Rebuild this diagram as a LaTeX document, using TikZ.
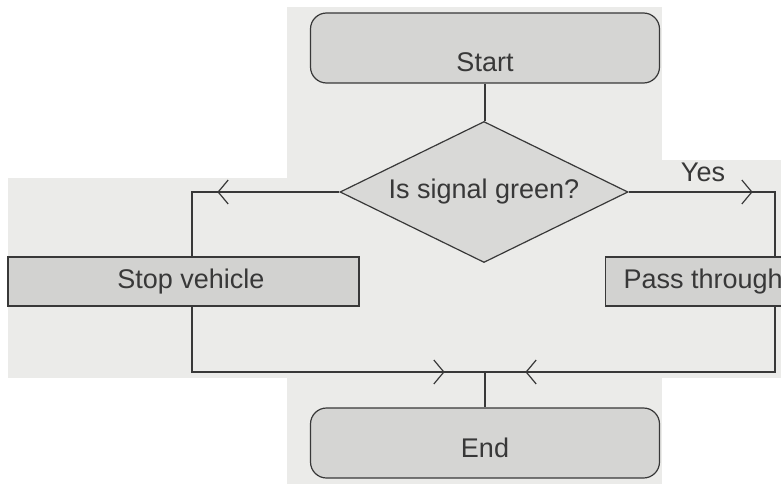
\documentclass[tikz,border=0pt]{standalone}
\usepackage{fontspec}
\setmainfont{Liberation Sans}
\usetikzlibrary{shapes.geometric,arrows.meta,decorations.markings}
\definecolor{ink}{HTML}{383838}
\definecolor{page}{HTML}{EBEBE9}
\definecolor{termfill}{HTML}{D5D5D3}
\definecolor{decfill}{HTML}{D9D9D7}
\definecolor{procfill}{HTML}{D2D2D0}
\begin{document}
\begin{tikzpicture}[x=1pt,y=-1pt,
  font=\fontsize{27}{32}\selectfont,
  every node/.style={text=ink},
  line/.style={draw=ink, line width=1.2pt},
  term/.style={draw=ink, line width=1.2pt, fill=termfill, rounded corners=16pt,
               minimum width=349pt, minimum height=70pt, inner sep=0pt},
  proc/.style={draw=ink, line width=1.2pt, fill=procfill, minimum height=49pt, inner ysep=0pt},
  dec/.style={diamond, draw=ink, line width=1.2pt, fill=decfill, aspect=2.04,
              minimum width=288pt, minimum height=141pt, inner sep=0pt},
  lbl/.style={inner sep=0pt, text=ink},
  chev/.style={postaction={decorate},
    decoration={markings, mark=at position #1 with {\arrow{Straight Barb[length=10pt,width=24pt,line width=1.2pt]}}}}
]
\useasboundingbox (0,0) rectangle (781,484);
\clip (0,0) rectangle (781,484);
% scanned page background
\fill[white] (0,0) rectangle (781,484);
\fill[page] (287,7) rectangle (662,484);
\fill[page] (8,178) rectangle (287,378);
\fill[page] (662,160) rectangle (781,378);

% nodes
\node[term, label={[lbl, yshift=-14pt]center:Start}] (start) at (485,48) {};
\node[dec] (dec) at (484,192) {Is signal green?};
\node[proc, minimum width=351pt, inner xsep=0pt] (stop) at (183.5,281.5) {\hspace{15pt}Stop vehicle};
\node[proc, anchor=west, inner xsep=18pt] (pass) at (605,281.5) {Pass through};
\node[term, label={[lbl, yshift=-5pt]center:End}] (end) at (485,443) {};
\node[lbl] (yes) at (703,172) {Yes};

% helper coordinates
\coordinate (lx) at (192,0);
\coordinate (rx) at (775,0);
\coordinate (join) at (485,372);

% connectors
\draw[line] (start.south) -- (start.south |- dec.north);
\draw[line, chev=122pt] (dec.west) -| (stop.north -| lx);
\draw[line, chev=124pt] (dec.east) -| (pass.north -| rx);
\draw[line, chev=318pt] (stop.south -| lx) |- (join);
\draw[line, chev=315pt] (pass.south -| rx) |- (join);
\draw[line] (join) -- (end.north);
\end{tikzpicture}
\end{document}
